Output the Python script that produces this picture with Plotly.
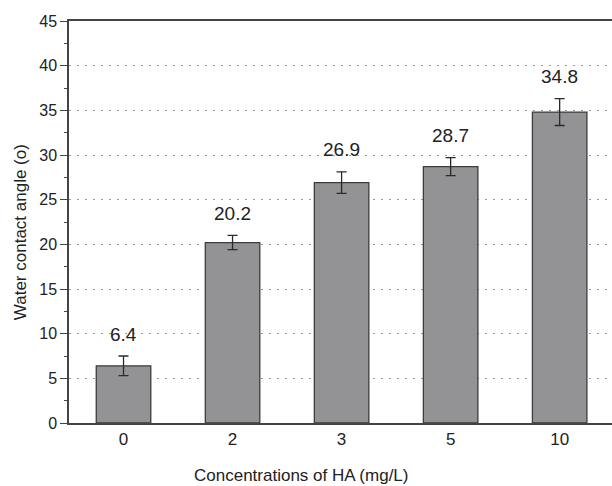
import plotly.graph_objects as go

categories = ["0", "2", "3", "5", "10"]
values = [6.4, 20.2, 26.9, 28.7, 34.8]
errors = [1.1, 0.8, 1.2, 1.0, 1.5]
value_labels = ["6.4", "20.2", "26.9", "28.7", "34.8"]
y_ticks = [0, 5, 10, 15, 20, 25, 30, 35, 40, 45]

FONT = "Liberation Sans, Arial, sans-serif"
TXT = "#222222"

fig = go.Figure()
fig.add_trace(go.Bar(
    x=categories, y=values, width=0.5,
    marker=dict(color="#939396", line=dict(color="#3c3c3c", width=1.3)),
    error_y=dict(type="data", array=errors, visible=True, color="#2a2a2a",
                 thickness=1.3, width=5),
    showlegend=False,
))

for i, (v, e, t) in enumerate(zip(values, errors, value_labels)):
    fig.add_annotation(x=i, y=v + e, text=t, showarrow=False, yshift=22,
                       yanchor="middle", font=dict(family=FONT, size=19, color=TXT))

fig.add_annotation(xref="paper", yref="paper", x=0.427, y=-0.13, text="Concentrations of HA (mg/L)",
                   showarrow=False, xanchor="center", yanchor="middle",
                   font=dict(family=FONT, size=17, color=TXT))
fig.add_annotation(xref="paper", yref="paper", x=-0.09, y=0.475, text="Water contact angle (o)",
                   showarrow=False, textangle=-90, xanchor="center", yanchor="middle",
                   font=dict(family=FONT, size=17, color=TXT))

fig.update_layout(
    width=612, height=486,
    margin=dict(l=69, r=0, t=21, b=63),
    plot_bgcolor="white", paper_bgcolor="white",
    font=dict(family=FONT, color=TXT),
    xaxis=dict(
        type="category", range=[-0.5, 4.48], automargin=False,
        showline=True, linecolor="#444444", linewidth=1.5, mirror=True,
        ticks="", showgrid=False,
        tickfont=dict(size=17, color=TXT),
    ),
    yaxis=dict(
        range=[0, 45], tickvals=y_ticks, automargin=False,
        showline=True, linecolor="#444444", linewidth=1.5,
        ticks="outside", ticklen=7, tickwidth=1.2, tickcolor="#444444",
        minor=dict(ticks="outside", ticklen=3, tickwidth=1.2, tickcolor="#444444",
                   dtick=2.5, showgrid=False),
        showgrid=True, gridcolor="#9a9a9a", griddash="2px,6px", gridwidth=1,
        zeroline=False,
        tickfont=dict(size=16, color=TXT),
    ),
)

fig.write_html("out.html", config={"displayModeBar": False},
               post_script="document.body.style.margin='0';")
